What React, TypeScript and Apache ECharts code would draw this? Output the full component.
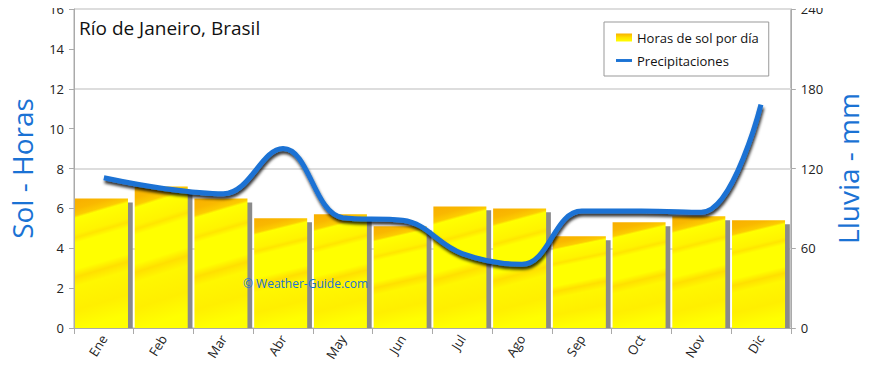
import React, { useEffect, useRef } from "react";
import * as echarts from "echarts";

const months = ["Ene", "Feb", "Mar", "Abr", "May", "Jun", "Jul", "Ago", "Sep", "Oct", "Nov", "Dic"];
const sunHours = [6.5, 7.1, 6.5, 5.5, 5.7, 5.1, 6.1, 6.0, 4.6, 5.3, 5.6, 5.4];
const rainMm = [113, 105, 101, 135, 83, 81, 56, 48, 88, 88, 87, 168];
const leftTicks = { min: 0, max: 16, interval: 2 };
const rightTicks = { min: 0, max: 240, interval: 60 };

const FONT = "Open Sans";

export default function App() {
  const ref = useRef<HTMLDivElement>(null);
  useEffect(() => {
    if (!ref.current) return;
    const chart = echarts.init(ref.current, null, { renderer: "svg" });
    const barFill = new echarts.graphic.LinearGradient(0, 0, 0.12, 1, [
      { offset: 0, color: "#f8ae00" },
      { offset: 0.08, color: "#f9b800" },
      { offset: 0.13, color: "#fccc00" },
      { offset: 0.15, color: "#ffff00" },
      { offset: 0.27, color: "#fff400" },
      { offset: 0.3, color: "#ffe600" },
      { offset: 0.34, color: "#ffff00" },
      { offset: 0.54, color: "#ffff00" },
      { offset: 0.6, color: "#ffe000" },
      { offset: 0.67, color: "#fff700" },
      { offset: 0.85, color: "#ffef00" },
      { offset: 1, color: "#ffff00" },
    ]);
    const legendFill = new echarts.graphic.LinearGradient(0, 0, 0, 1, [
      { offset: 0, color: "#f8b200" },
      { offset: 0.5, color: "#ffe000" },
      { offset: 1, color: "#ffff00" },
    ]);
    const shadowVals = sunHours.map((v) => v - 0.2);
    chart.setOption({
      animation: false,
      textStyle: { fontFamily: FONT },
      grid: {
        left: 69,
        right: 70,
        top: 9,
        bottom: 40,
        show: true,
        borderColor: "#aaaaaa",
        borderWidth: 1,
      },
      legend: {
        left: 604,
        top: 22,
        orient: "vertical",
        backgroundColor: "#ffffff",
        borderColor: "#999999",
        borderWidth: 1,
        padding: [9, 10, 9, 12],
        itemGap: 10,
        textStyle: { fontFamily: FONT, fontSize: 13, color: "#111" },
        data: [
          { name: "Horas de sol por día", icon: "rect", itemStyle: { color: legendFill } },
          { name: "Precipitaciones", icon: "path://M0,0 H22 V4 H0 Z", itemStyle: { color: "#1a72d4" } },
        ],
        itemWidth: 16,
        itemHeight: 8,
      },
      xAxis: {
        type: "category",
        data: months,
        boundaryGap: true,
        axisLine: { lineStyle: { color: "#aaaaaa" } },
        axisTick: { show: true, length: 6, lineStyle: { color: "#aaaaaa" } },
        axisLabel: { rotate: 58, color: "#222", fontSize: 13, fontFamily: FONT, margin: 8 },
      },
      yAxis: [
        {
          type: "value",
          ...leftTicks,
          position: "left",
          name: "Sol - Horas",
          nameLocation: "middle",
          nameGap: 38,
          nameRotate: 90,
          nameTextStyle: { color: "#1a72d4", fontSize: 28, fontFamily: FONT },
          axisLine: { show: true, lineStyle: { color: "#aaaaaa" } },
          axisTick: { show: true, length: 5, lineStyle: { color: "#aaaaaa" } },
          axisLabel: { color: "#222", fontSize: 13, margin: 10 },
          splitLine: { show: false },
        },
        {
          type: "value",
          ...rightTicks,
          position: "right",
          name: "Lluvia - mm",
          nameLocation: "middle",
          nameGap: 40,
          nameRotate: 90,
          nameTextStyle: { color: "#1a72d4", fontSize: 28, fontFamily: FONT },
          axisLine: { show: true, lineStyle: { color: "#aaaaaa" } },
          axisTick: { show: true, length: 5, lineStyle: { color: "#aaaaaa" } },
          axisLabel: { color: "#222", fontSize: 13, margin: 10 },
          splitLine: { show: true, lineStyle: { color: "#dddddd", width: 2 } },
        },
      ],
      series: [
        {
          name: "Horas de sol por día",
          type: "bar",
          yAxisIndex: 0,
          data: sunHours,
          barWidth: 53,
          barGap: "-91%",
          itemStyle: { color: barFill },
          z: 3,
        },
        {
          name: "sombra",
          type: "bar",
          yAxisIndex: 0,
          data: shadowVals,
          barWidth: 53,
          itemStyle: { color: "#8a8a8a" },
          silent: true,
          z: 2,
        },
        {
          name: "Precipitaciones",
          type: "line",
          yAxisIndex: 1,
          data: rainMm,
          smooth: 0.4,
          symbol: "none",
          lineStyle: {
            width: 5,
            color: "#1a72d4",
            shadowColor: "rgba(0,0,0,0.8)",
            shadowBlur: 3,
            shadowOffsetX: 1,
            shadowOffsetY: 3,
          },
          itemStyle: { color: "#1a72d4" },
          z: 5,
        },
      ],
      graphic: [
        {
          type: "text",
          left: 79,
          top: 18,
          style: { text: "Río de Janeiro, Brasil", fontSize: 19, fontFamily: FONT, fill: "#111" },
          z: 10,
        },
        {
          type: "text",
          left: 243,
          top: 277,
          style: { text: "© Weather-Guide.com", fontSize: 12, fontFamily: FONT, fill: "#1a72d4" },
          z: 10,
        },
      ],
    });
    return () => chart.dispose();
  }, []);
  return <div ref={ref} style={{ width: 870, height: 368, margin: -8 }} />;
}
